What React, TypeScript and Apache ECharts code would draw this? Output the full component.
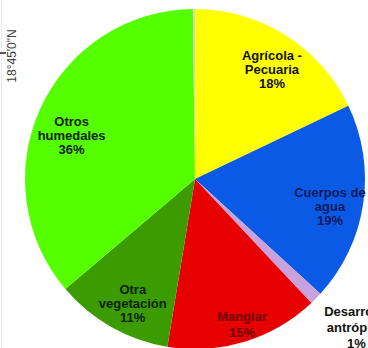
import React, { useEffect, useRef } from "react";
import * as echarts from "echarts";

const categories = [
  "Agrícola -\nPecuaria",
  "Cuerpos de\nagua",
  "Desarrollo\nantrópico",
  "Manglar",
  "Otra\nvegetación",
  "Otros\nhumedales",
  "",
];
const values = [17.9, 18.9, 1.2, 14.6, 11.2, 36.0, 0.2];
const sliceColors = ["#ffff00", "#0a5ae6", "#c8a2dc", "#e60000", "#3c9b00", "#55ff00", "#d4d4d4"];
const textColors = ["#111111", "#0b1a5c", "#111111", "#6e0000", "#0b2200", "#0b2200", "#111111"];
const labelRadius = [0.785, 0.81, 1.29, 0.9, 0.82, 0.77, 0];
const labelNudgeDeg = [3, 3, -2, -1, -3, -5, 0];
const labelLineHeight = [14, 14, 16, 16, 14, 14, 14];
const axisLabel = "18°45'0\"N";

const CX = 195;
const CY = 179;
const R = 170;

export default function App() {
  const ref = useRef<HTMLDivElement>(null);
  useEffect(() => {
    if (!ref.current) return;
    const chart = echarts.init(ref.current, undefined, { renderer: "svg" });
    const total = values.reduce((a, b) => a + b, 0);
    const cum: number[] = [];
    let acc = 0;
    values.forEach((v) => {
      cum.push(acc + v / 2);
      acc += v;
    });
    chart.setOption({
      animation: false,
      backgroundColor: "#ffffff",
      graphic: [
        {
          type: "line",
          shape: { x1: 1.5, y1: 0, x2: 1.5, y2: 348 },
          style: { stroke: "#e8e8e8", lineWidth: 1 },
          silent: true,
        },
        {
          type: "line",
          shape: { x1: 0, y1: 53, x2: 6, y2: 53 },
          style: { stroke: "#222", lineWidth: 1.5 },
          silent: true,
        },
        {
          type: "text",
          x: 12,
          y: 56,
          rotation: Math.PI / 2,
          style: {
            text: axisLabel,
            fontSize: 12,
            fontFamily: "Liberation Sans, Arial, sans-serif",
            fill: "#3a3a3a",
            align: "center",
            verticalAlign: "middle",
          },
          silent: true,
        },
      ],
      series: [
        {
          type: "pie",
          center: [CX, CY],
          radius: [0, R],
          startAngle: 90,
          clockwise: true,
          avoidLabelOverlap: false,
          silent: true,
          label: {
            show: true,
            position: "inside",
            fontFamily: "Liberation Sans, Arial, sans-serif",
            fontWeight: "bold",
            fontSize: 13,
            lineHeight: 14,
            align: "center",
            formatter: (p: any) => `${p.name}\n${Math.round(p.value)}%`,
          },
          labelLine: { show: false },
          labelLayout: (params: any) => {
            const i = params.dataIndex;
            const deg = (cum[i] / total) * 360 + labelNudgeDeg[i];
            const rad = (deg * Math.PI) / 180;
            const r = R * labelRadius[i];
            return {
              x: CX + r * Math.sin(rad),
              y: CY - r * Math.cos(rad),
              align: "center",
              verticalAlign: "middle",
            };
          },
          data: categories.map((name, i) => ({
            name,
            value: values[i],
            itemStyle: { color: sliceColors[i] },
            label: {
              show: name !== "",
              color: textColors[i],
              lineHeight: labelLineHeight[i],
            },
          })),
        },
      ],
    });
    return () => chart.dispose();
  }, []);
  return (
    <div
      ref={ref}
      style={{ position: "absolute", left: 0, top: 0, width: 368, height: 348 }}
    />
  );
}
